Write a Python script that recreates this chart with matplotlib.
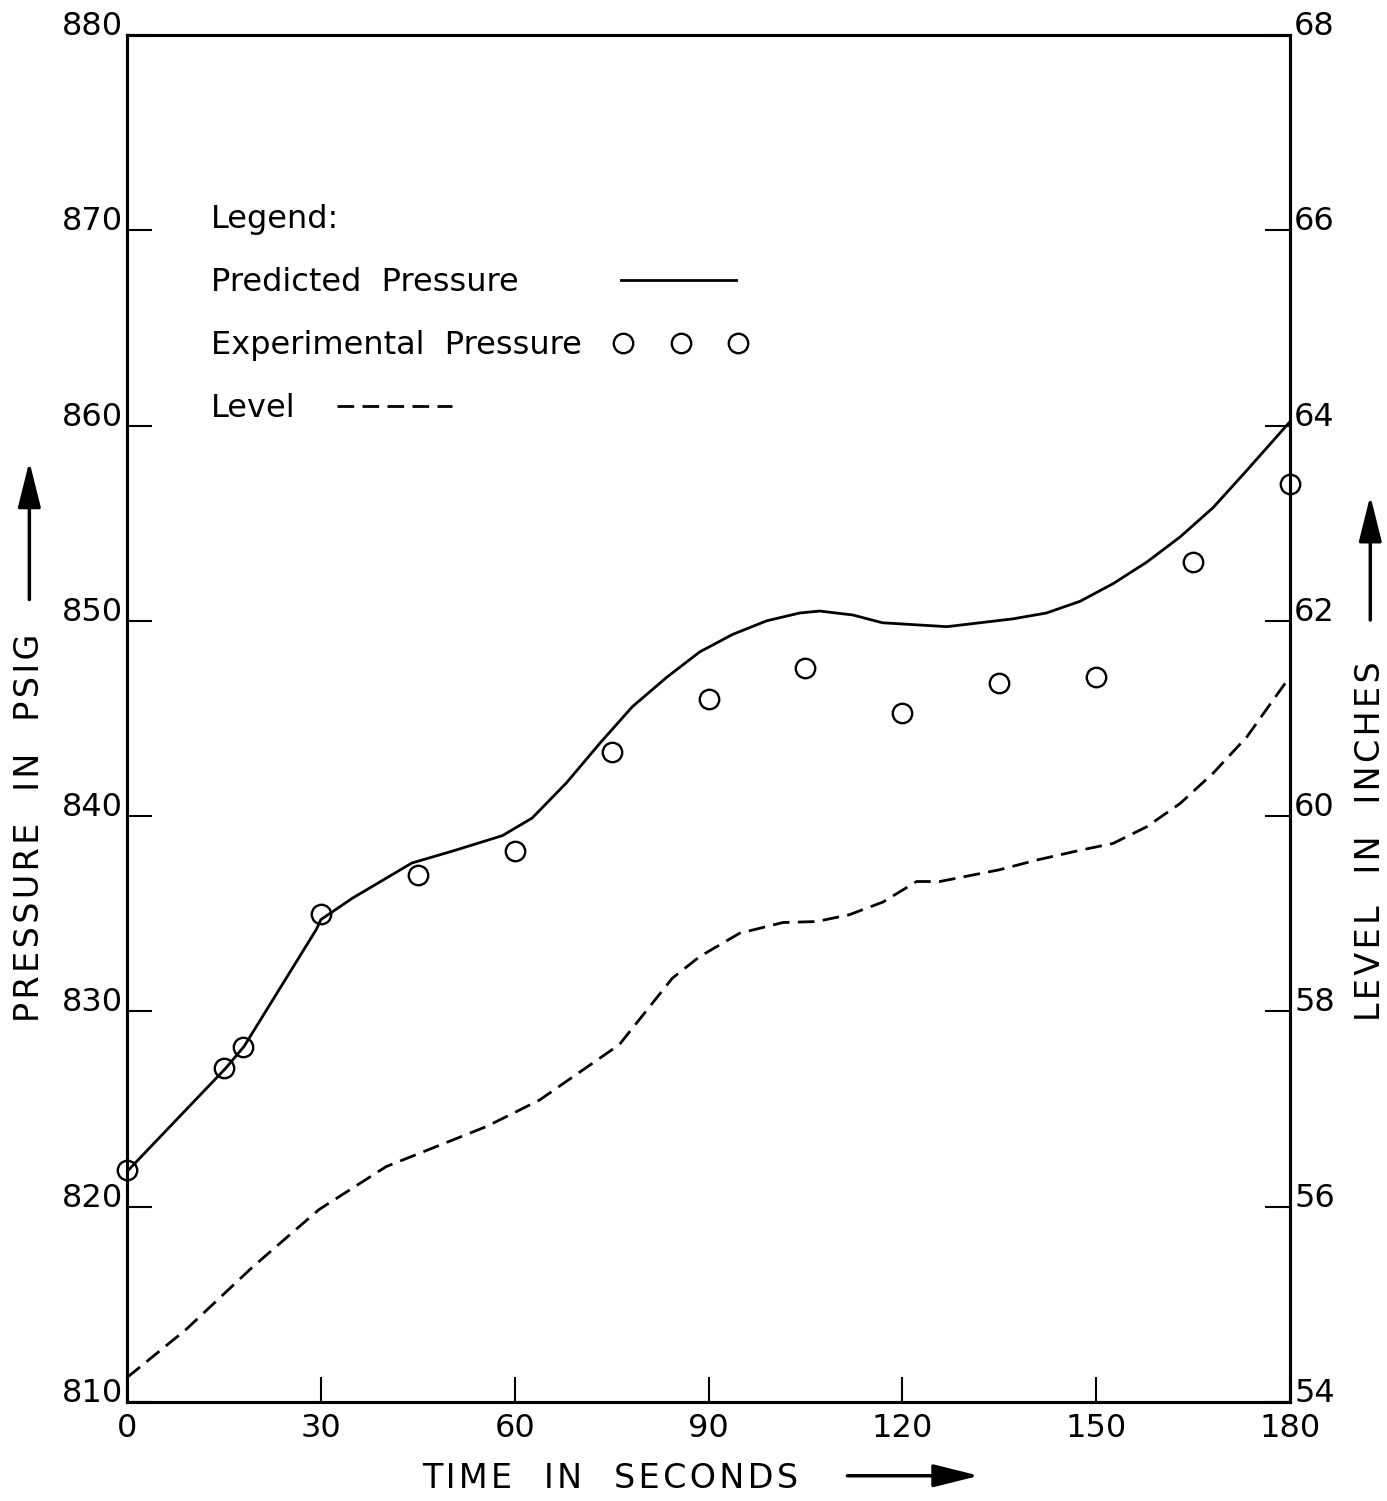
import matplotlib
matplotlib.use('Agg')
from matplotlib import pyplot as plt

plt.rcParams['font.family'] = ['DejaVu Sans']

# predicted pressure (solid curve)
t_pred = [0, 15.3, 18.1, 29.3, 30.0, 34.9, 44.1, 50.3, 58.1, 62.7, 68.0, 73.1,
          78.2, 83.5, 88.6, 93.7, 99.0, 104.1, 107.2, 112.3, 116.9, 126.9,
          137.1, 142.3, 147.5, 152.6, 157.8, 163.0, 168.1, 173.3, 180]
p_pred = [821.8, 827.1, 828.2, 834.2, 834.7, 835.8, 837.6, 838.2, 839.0, 839.9,
          841.7, 843.7, 845.6, 847.1, 848.4, 849.3, 850.0, 850.4, 850.5, 850.3,
          849.9, 849.7, 850.1, 850.4, 851.0, 851.9, 853.0, 854.3, 855.8, 857.7,
          860.2]

# experimental pressure (circles)
t_exp = [0, 15, 18, 30, 45, 60, 75, 90, 105, 120, 135, 150, 165, 180]
p_exp = [821.9, 827.1, 828.2, 835.0, 837.0, 838.2, 843.3, 846.0, 847.6, 845.3,
         846.8, 847.1, 853.0, 857.0]

# level (dashed curve, right axis)
t_lev = [0, 9.1, 19.4, 29.7, 40.1, 50.3, 55.6, 63.8, 76.2, 84.4, 88.6, 94.8,
         101.5, 106.7, 111.8, 117.0, 122.2, 125.8, 135.0, 140.8, 147.5, 152.6,
         157.8, 163.0, 168.1, 173.3, 177.4, 180]
l_lev = [54.25, 54.74, 55.38, 55.97, 56.41, 56.68, 56.82, 57.09, 57.66, 58.34,
         58.56, 58.80, 58.91, 58.92, 58.99, 59.12, 59.33, 59.33, 59.45, 59.55,
         59.65, 59.72, 59.89, 60.13, 60.44, 60.81, 61.19, 61.43]

x_ticks = [0, 30, 60, 90, 120, 150, 180]
p_ticks = [810, 820, 830, 840, 850, 860, 870, 880]
l_ticks = [54, 56, 58, 60, 62, 64, 66, 68]


def spaced(s):
    # wide lettering like the stencilled axis titles
    return '   '.join('\u200a'.join(w) for w in s.split())


fig = plt.figure(figsize=(13.87, 15.01), dpi=100)
ax = fig.add_axes([0.0916, 0.066, 0.8385, 0.9107])
ax2 = ax.twinx()

l1, = ax.plot(t_pred, p_pred, '-', color='black', lw=2.0,
              label='Predicted  Pressure' + ' ' * 6)
l2, = ax.plot(t_exp, p_exp, 'o', mfc='none', mec='black', ms=14, mew=1.7,
              clip_on=False, label='Experimental  Pressure')
l3, = ax2.plot(t_lev, l_lev, color='black', lw=2.0, ls=(0, (6, 3)),
               label='Level')

ax.set_xlim(0, 180)
ax.set_ylim(810, 880)
ax2.set_ylim(54, 68)
ax.set_xticks(x_ticks)
ax.set_yticks(p_ticks)
ax2.set_yticks(l_ticks)

for a in (ax, ax2):
    for s in a.spines.values():
        s.set_linewidth(2.2)
ax.tick_params(axis='x', direction='in', length=18, width=1.5, labelsize=23,
               pad=8, top=False)
ax.tick_params(axis='y', direction='in', length=18, width=1.5, labelsize=23,
               pad=3, right=False)
ax2.tick_params(axis='y', direction='in', length=18, width=1.5, labelsize=23,
                pad=3)
for lab in ax.get_yticklabels() + ax2.get_yticklabels():
    lab.set_verticalalignment('baseline')

# axis titles with arrows
ax.text(-0.084, 0.42, spaced('PRESSURE IN PSIG'), transform=ax.transAxes,
        rotation=90, ha='center', va='center', fontsize=24)
ax.text(1.069, 0.41, spaced('LEVEL IN INCHES'), transform=ax.transAxes,
        rotation=90, ha='center', va='center', fontsize=24)
ax.text(0.415, -0.056, spaced('TIME IN SECONDS'), transform=ax.transAxes,
        ha='center', va='center', fontsize=24)
arw = dict(arrowstyle='-|>,head_length=1.4,head_width=0.35', lw=2.5,
           color='black', mutation_scale=20)
ax.annotate('', xy=(-0.084, 0.69), xytext=(-0.084, 0.585),
            xycoords='axes fraction', arrowprops=arw)
ax.annotate('', xy=(1.069, 0.665), xytext=(1.069, 0.57),
            xycoords='axes fraction', arrowprops=arw)
ax.annotate('', xy=(0.735, -0.054), xytext=(0.617, -0.054),
            xycoords='axes fraction', arrowprops=arw)

leg = ax.legend(handles=[l1, l2, l3], title='Legend:', loc='upper left',
                bbox_to_anchor=(0.072, 0.876), frameon=False, markerfirst=False,
                fontsize=23, title_fontsize=23, handlelength=4.2,
                handletextpad=1.0, labelspacing=1.0, numpoints=3,
                borderpad=0, borderaxespad=0, alignment='left')
# rows start at the left, handle follows its label
for col in leg._legend_handle_box.get_children():
    col.align = 'left'

fig.savefig('out.png', dpi=100)
